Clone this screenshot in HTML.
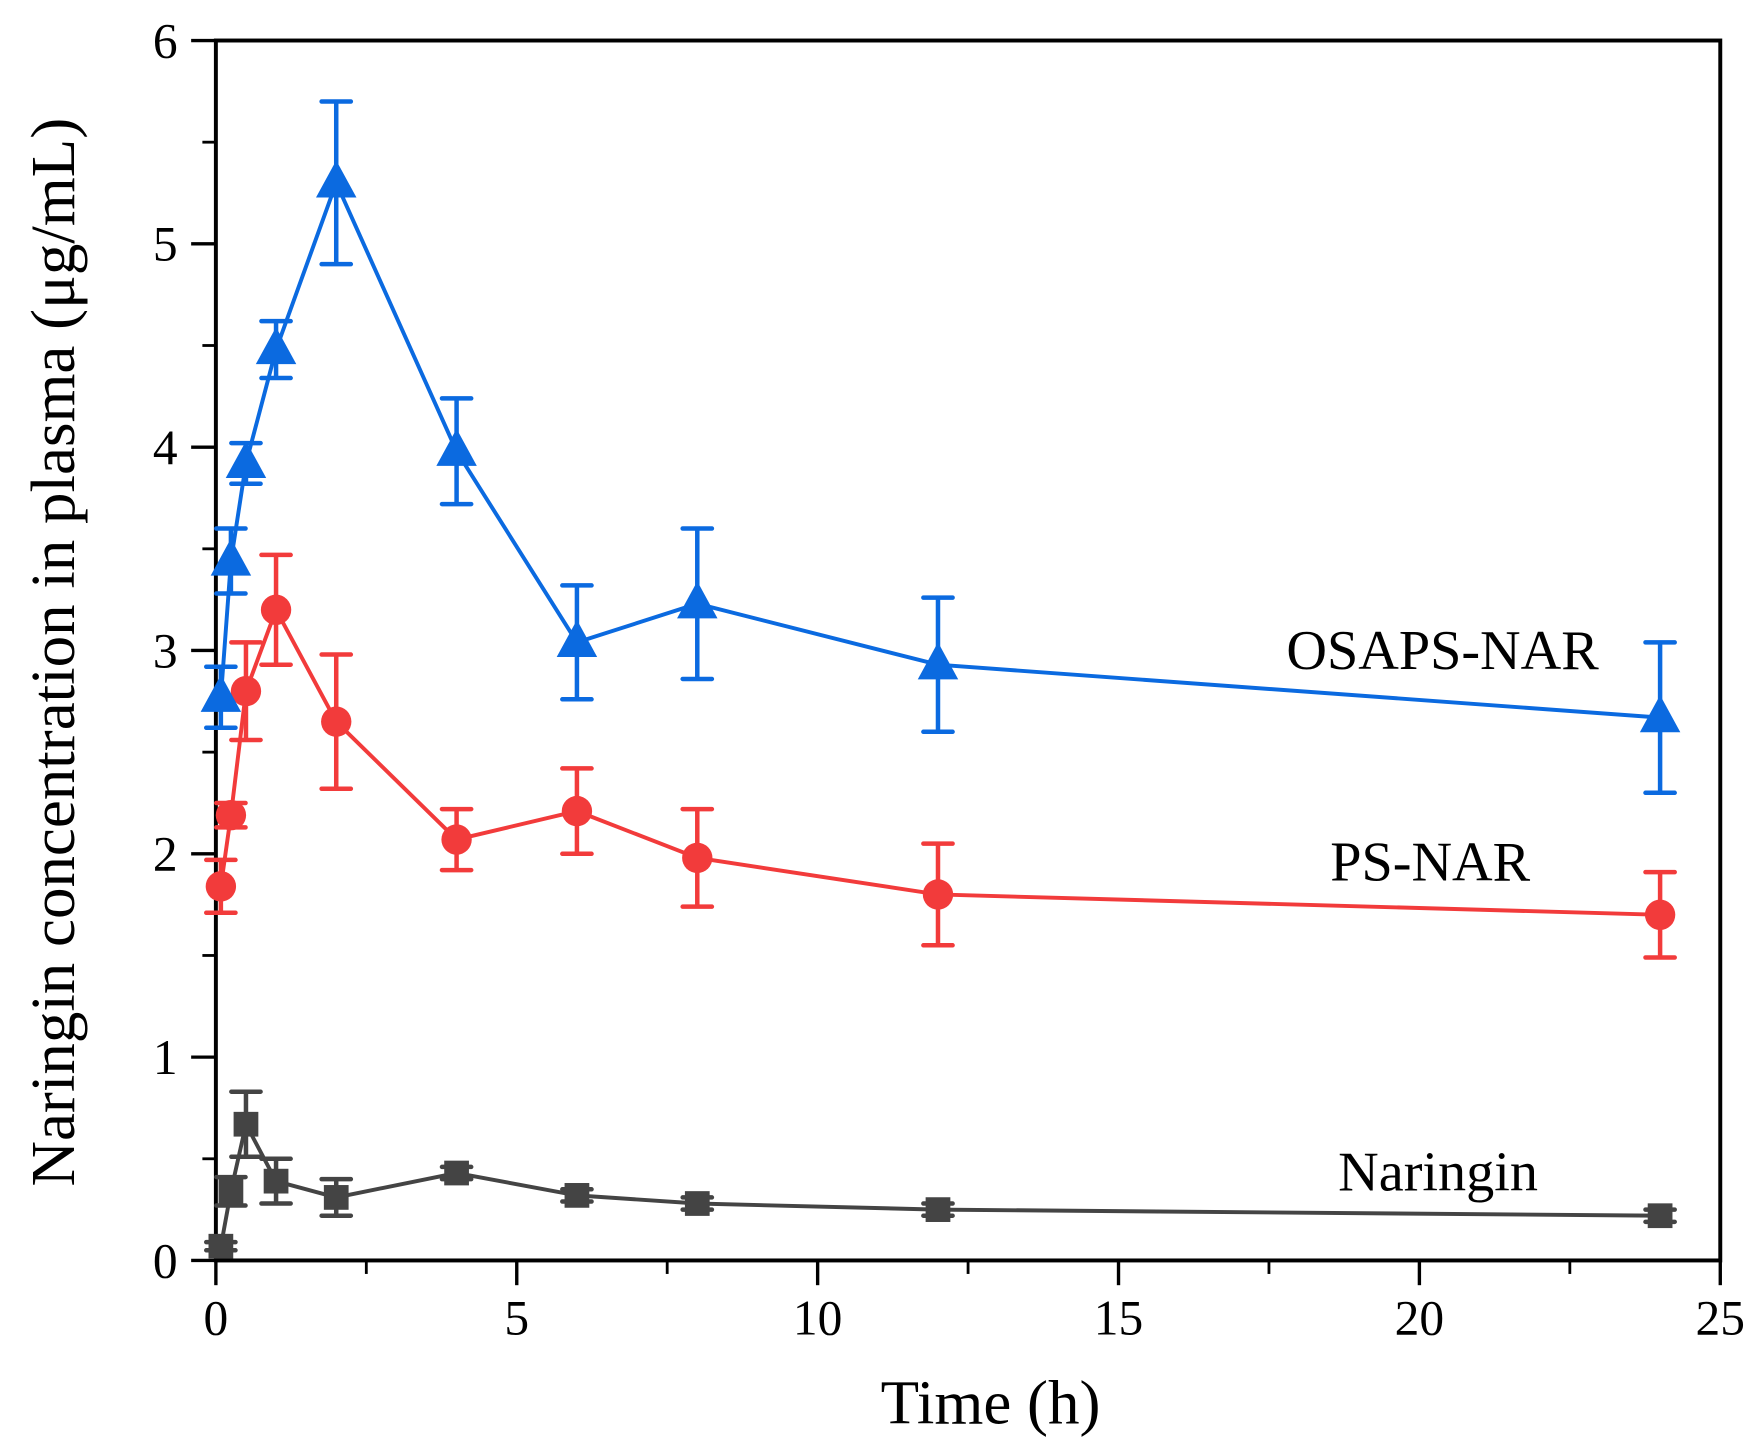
<!DOCTYPE html>
<html><head><meta charset="utf-8"><style>
html,body{margin:0;padding:0;background:#fff;}
svg{display:block;font-family:"Liberation Serif",serif;}
</style></head><body>
<svg id="chart" width="1763" height="1455" viewBox="0 0 1568 1294" xmlns="http://www.w3.org/2000/svg">
<g id="axes"></g>
<g id="series"></g>
<text x="881" y="1266" font-size="56" text-anchor="middle">Time (h)</text>
<text transform="translate(66,580) rotate(-90)" font-size="56" text-anchor="middle">Naringin concentration in plasma (μg/mL)</text>
<text x="1283" y="595" font-size="50" text-anchor="middle">OSAPS-NAR</text>
<text x="1272" y="783" font-size="50" text-anchor="middle">PS-NAR</text>
<text x="1279" y="1059" font-size="50" text-anchor="middle">Naringin</text>
</svg>
<script>
const times=[0.083,0.25,0.5,1,2,4,6,8,12,24];
const osapsVals=[2.77,3.44,3.92,4.48,5.30,3.98,3.04,3.23,2.93,2.67];
const osapsErr=[0.15,0.16,0.10,0.14,0.40,0.26,0.28,0.37,0.33,0.37];
const psVals=[1.84,2.19,2.80,3.20,2.65,2.07,2.21,1.98,1.80,1.70];
const psErr=[0.13,0.06,0.24,0.27,0.33,0.15,0.21,0.24,0.25,0.21];
const narVals=[0.07,0.34,0.67,0.39,0.31,0.43,0.32,0.28,0.25,0.22];
const narErr=[0.02,0.07,0.16,0.11,0.09,0.03,0.03,0.03,0.03,0.03];
const xTicks=[0,5,10,15,20,25];
const yTicks=[0,1,2,3,4,5,6];

const X0=192,X1=1530,Y0=1121,Y1=36;
const sx=v=>X0+(v/25)*(X1-X0);
const sy=v=>Y0-(v/6)*(Y0-Y1);
const NS="http://www.w3.org/2000/svg";
function mk(tag,attrs,parent){const e=document.createElementNS(NS,tag);for(const k in attrs)e.setAttribute(k,attrs[k]);parent.appendChild(e);return e;}
const axes=document.getElementById('axes');
let e=mk('rect',{x:X0,y:Y1,width:X1-X0,height:Y0-Y1,fill:'none',stroke:'#000','stroke-width':3.5},axes);


xTicks.forEach(t=>{
 let l=mk('line',{x1:sx(t),x2:sx(t),y1:Y0,y2:Y0+22,stroke:'#000','stroke-width':3},axes);
 
 
 if(t<25){let m=mk('line',{x1:sx(t+2.5),x2:sx(t+2.5),y1:Y0,y2:Y0+12,stroke:'#000','stroke-width':2.5},axes);
 
 }
 let tx=mk('text',{x:sx(t),y:Y0+66,'font-size':44,'text-anchor':'middle'},axes);
 tx.textContent=t;
 
 
});
yTicks.forEach(t=>{
 let l=mk('line',{x1:X0-22,x2:X0,y1:sy(t),y2:sy(t),stroke:'#000','stroke-width':3},axes);
 
 
 if(t<6){let m=mk('line',{x1:X0-12,x2:X0,y1:sy(t+0.5),y2:sy(t+0.5),stroke:'#000','stroke-width':2.5},axes);
 
 }
 let tx=mk('text',{x:X0-34,y:sy(t)+15,'font-size':44,'text-anchor':'end'},axes);
 tx.textContent=t;
 
 
});
const ser=document.getElementById('series');
function draw(name,vals,errs,color,shape){
 const g=mk('g',{},ser);
 
 
 let ln=mk('polyline',{points:times.map((t,i)=>sx(t)+','+sy(vals[i])).join(' '),fill:'none',stroke:color,'stroke-width':3.5},g);
 
 
 times.forEach((t,i)=>{
  const x=sx(t),y=sy(vals[i]),yt=sy(vals[i]+errs[i]),yb=sy(vals[i]-errs[i]);
  let eb=mk('path',{d:`M${x},${yt}V${yb}M${x-13},${yt}H${x+13}M${x-13},${yb}H${x+13}`,stroke:color,'stroke-width':4,fill:'none','stroke-linecap':'round'},g);
  
  
  let m;
  if(shape==='tri')m=mk('path',{d:`M${x},${y-20}L${x+18},${y+13}L${x-18},${y+13}Z`,fill:color},g);
  else if(shape==='circ')m=mk('circle',{cx:x,cy:y,r:13.5,fill:color},g);
  else m=mk('rect',{x:x-11,y:y-11,width:22,height:22,fill:color},g);
  
  
 });
}
draw('naringin',narVals,narErr,'#444444','sq');
draw('ps-nar',psVals,psErr,'#f23b3b','circ');
draw('osaps-nar',osapsVals,osapsErr,'#0b6ae0','tri');
</script>
</body></html>
